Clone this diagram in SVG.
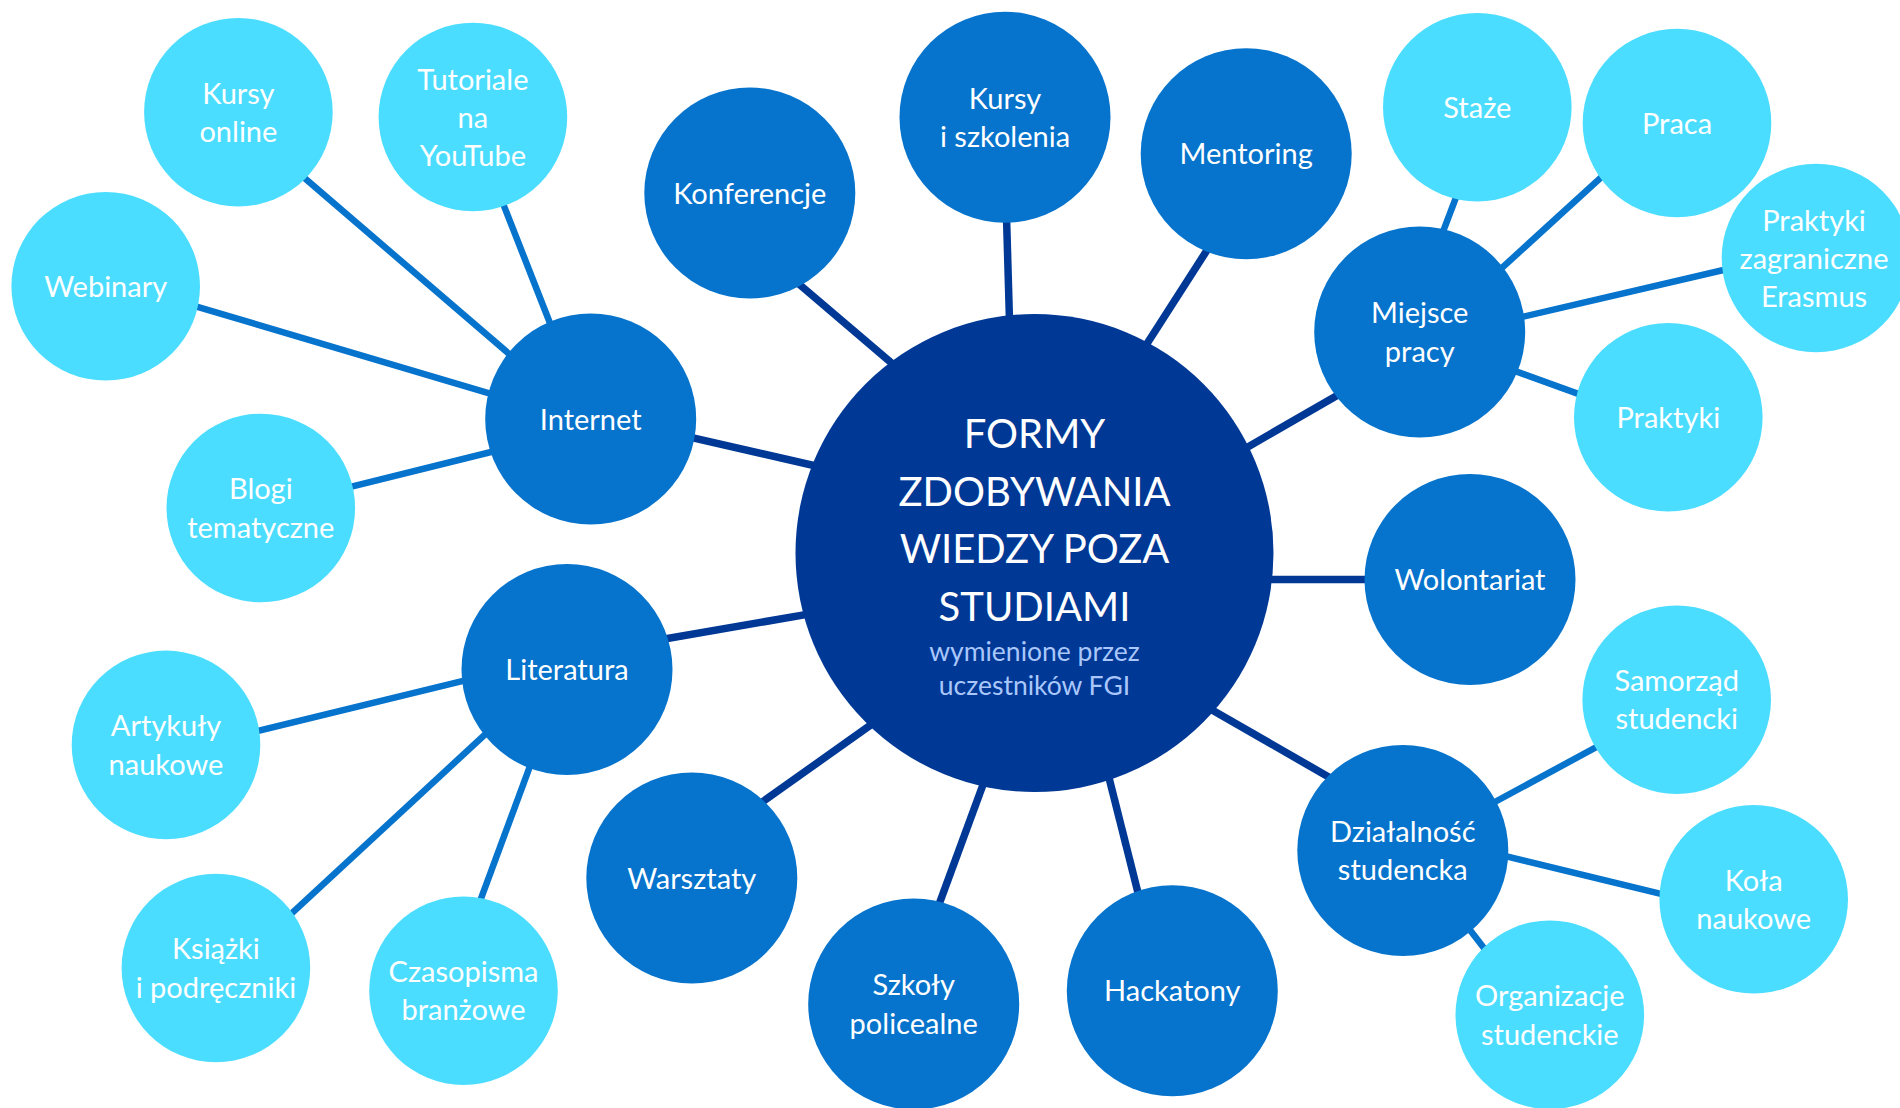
<svg xmlns="http://www.w3.org/2000/svg" width="1900" height="1108" viewBox="0 0 1900 1108">
<style>
.bg{fill:#ffffff}
.c{fill:#003896}
.m{fill:#0673CC}
.l{fill:#4BDDFF}
.ld{stroke:#003896;stroke-width:7.5;fill:none}
.lm{stroke:#0673CC;stroke-width:6.5;fill:none}
text{font-family:Lato,"Open Sans","Liberation Sans",sans-serif;fill:#ffffff;text-anchor:middle}
.t{font-size:29px}
.h{font-size:40px}
.s{font-size:26.5px;fill:#A9C7FA}
</style>
<rect class="bg" x="0" y="0" width="1900" height="1108"/>
<g id="connectors">
<line class="ld" x1="675.5" y1="433.8" x2="831.2" y2="469.5"/>
<line class="ld" x1="784.8" y1="272" x2="905.2" y2="374.7"/>
<line class="ld" x1="1006.1" y1="202.7" x2="1009.9" y2="335"/>
<line class="ld" x1="1215.8" y1="236.5" x2="1137.5" y2="358.5"/>
<line class="ld" x1="1352.3" y1="386.7" x2="1231" y2="456.7"/>
<line class="ld" x1="1250" y1="579.5" x2="1385" y2="579.5"/>
<line class="ld" x1="1197.7" y1="701.7" x2="1345.6" y2="786.7"/>
<line class="ld" x1="1105.1" y1="762.3" x2="1142.2" y2="909.4"/>
<line class="ld" x1="988.6" y1="769.5" x2="933.1" y2="920.5"/>
<line class="ld" x1="884.6" y1="715.1" x2="748.7" y2="811.6"/>
<line class="ld" x1="823" y1="611.6" x2="648.6" y2="641.7"/>
<line class="lm" x1="288.8" y1="164.5" x2="523.2" y2="366"/>
<line class="lm" x1="496.7" y1="187.4" x2="556.3" y2="339.2"/>
<line class="lm" x1="178.8" y1="301.3" x2="507" y2="398.7"/>
<line class="lm" x1="332.4" y1="491.4" x2="509.2" y2="447.5"/>
<line class="lm" x1="241" y1="735" x2="480.6" y2="676.6"/>
<line class="lm" x1="277.1" y1="926.8" x2="498.4" y2="722.1"/>
<line class="lm" x1="474.7" y1="915.7" x2="535.5" y2="751.2"/>
<line class="lm" x1="1462.1" y1="181.3" x2="1437.2" y2="247"/>
<line class="lm" x1="1614.8" y1="164.8" x2="1488.5" y2="280.2"/>
<line class="lm" x1="1742.8" y1="265.5" x2="1503.8" y2="321.2"/>
<line class="lm" x1="1595.5" y1="400.1" x2="1497.9" y2="364.9"/>
<line class="lm" x1="1614.3" y1="737.4" x2="1479.1" y2="810.5"/>
<line class="lm" x1="1679.4" y1="898.3" x2="1489.2" y2="852.2"/>
<line class="lm" x1="1495.9" y1="963.5" x2="1458" y2="914.4"/>
</g>
<g id="center">
<circle class="c" cx="1034.5" cy="553" r="239"/>
<text class="h" x="1034.5" y="448.3">FORMY</text>
<text class="h" x="1034.5" y="505.5">ZDOBYWANIA</text>
<text class="h" x="1034.5" y="563.3">WIEDZY POZA</text>
<text class="h" x="1034.5" y="620.7">STUDIAMI</text>
<text class="s" x="1034.5" y="660.7">wymienione przez</text>
<text class="s" x="1034.5" y="695">uczestników FGI</text>
</g>
<g id="internet"><circle class="m" cx="590.7" cy="419" r="105.5"/><text class="t" x="590.7" y="429.5">Internet</text></g>
<g id="literatura"><circle class="m" cx="567" cy="669.5" r="105.5"/><text class="t" x="567" y="680">Literatura</text></g>
<g id="konferencje"><circle class="m" cx="749.8" cy="193" r="105.5"/><text class="t" x="749.8" y="203.5">Konferencje</text></g>
<g id="kursy-szkolenia"><circle class="m" cx="1005" cy="117.2" r="105.5"/><text class="t" x="1005" y="108.5">Kursy</text><text class="t" x="1005" y="146.9">i szkolenia</text></g>
<g id="mentoring"><circle class="m" cx="1246.2" cy="153.8" r="105.5"/><text class="t" x="1246.2" y="164.3">Mentoring</text></g>
<g id="miejsce-pracy"><circle class="m" cx="1419.7" cy="332" r="105.5"/><text class="t" x="1419.7" y="323.3">Miejsce</text><text class="t" x="1419.7" y="361.7">pracy</text></g>
<g id="wolontariat"><circle class="m" cx="1470" cy="579.5" r="105.5"/><text class="t" x="1470" y="590">Wolontariat</text></g>
<g id="dzialalnosc"><circle class="m" cx="1402.8" cy="850.5" r="105.5"/><text class="t" x="1402.8" y="841.8">Działalność</text><text class="t" x="1402.8" y="880.2">studencka</text></g>
<g id="hackatony"><circle class="m" cx="1172.3" cy="990.8" r="105.5"/><text class="t" x="1172.3" y="1001.3">Hackatony</text></g>
<g id="szkoly"><circle class="m" cx="913.7" cy="1004" r="105.5"/><text class="t" x="913.7" y="995.3">Szkoły</text><text class="t" x="913.7" y="1033.7">policealne</text></g>
<g id="warsztaty"><circle class="m" cx="691.8" cy="878" r="105.5"/><text class="t" x="691.8" y="888.5">Warsztaty</text></g>
<g id="kursy-online"><circle class="l" cx="238.4" cy="112.2" r="94.3"/><text class="t" x="238.4" y="103.5">Kursy</text><text class="t" x="238.4" y="141.9">online</text></g>
<g id="tutoriale"><circle class="l" cx="472.9" cy="117" r="94.3"/><text class="t" x="472.9" y="89.5">Tutoriale</text><text class="t" x="472.9" y="127.9">na</text><text class="t" x="472.9" y="166.3">YouTube</text></g>
<g id="webinary"><circle class="l" cx="105.7" cy="286.3" r="94.3"/><text class="t" x="105.7" y="296.8">Webinary</text></g>
<g id="blogi"><circle class="l" cx="260.8" cy="508" r="94.3"/><text class="t" x="260.8" y="499.3">Blogi</text><text class="t" x="260.8" y="537.7">tematyczne</text></g>
<g id="artykuly"><circle class="l" cx="166" cy="744.9" r="94.3"/><text class="t" x="166" y="736.2">Artykuły</text><text class="t" x="166" y="774.6">naukowe</text></g>
<g id="ksiazki"><circle class="l" cx="215.9" cy="968" r="94.3"/><text class="t" x="215.9" y="959.3">Książki</text><text class="t" x="215.9" y="997.7">i podręczniki</text></g>
<g id="czasopisma"><circle class="l" cx="463.5" cy="990.7" r="94.3"/><text class="t" x="463.5" y="982">Czasopisma</text><text class="t" x="463.5" y="1020.4">branżowe</text></g>
<g id="staze"><circle class="l" cx="1477.3" cy="107.2" r="94.3"/><text class="t" x="1477.3" y="117.7">Staże</text></g>
<g id="praca"><circle class="l" cx="1677" cy="123" r="94.3"/><text class="t" x="1677" y="133.5">Praca</text></g>
<g id="praktyki-zagraniczne"><circle class="l" cx="1816" cy="258" r="94.3"/><text class="t" x="1814" y="230.5">Praktyki</text><text class="t" x="1814" y="268.9">zagraniczne</text><text class="t" x="1814" y="307.3">Erasmus</text></g>
<g id="praktyki"><circle class="l" cx="1668.3" cy="417.3" r="94.3"/><text class="t" x="1668.3" y="427.8">Praktyki</text></g>
<g id="samorzad"><circle class="l" cx="1676.7" cy="699.7" r="94.3"/><text class="t" x="1676.7" y="691">Samorząd</text><text class="t" x="1676.7" y="729.4">studencki</text></g>
<g id="kola"><circle class="l" cx="1753.7" cy="899.3" r="94.3"/><text class="t" x="1753.7" y="890.6">Koła</text><text class="t" x="1753.7" y="929">naukowe</text></g>
<g id="organizacje"><circle class="l" cx="1549.8" cy="1014.8" r="94.3"/><text class="t" x="1549.8" y="1006.1">Organizacje</text><text class="t" x="1549.8" y="1044.5">studenckie</text></g>
</svg>
